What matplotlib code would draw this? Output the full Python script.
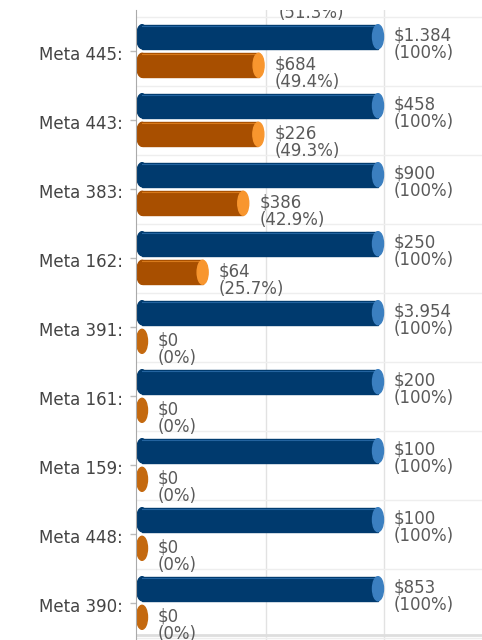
import numpy as np
import matplotlib.pyplot as plt
from matplotlib.patches import Rectangle, Ellipse

# dados
categorias = ["Meta 445", "Meta 443", "Meta 383", "Meta 162", "Meta 391",
              "Meta 161", "Meta 159", "Meta 448", "Meta 390"]
meta_valor = [1384, 458, 900, 250, 3954, 200, 100, 100, 853]
meta_pct = [100, 100, 100, 100, 100, 100, 100, 100, 100]
real_valor = [684, 226, 386, 64, 0, 0, 0, 0, 0]
real_pct = [49.4, 49.3, 42.9, 25.7, 0, 0, 0, 0, 0]
# categoria anterior, cortada no topo (so o percentual aparece)
anterior_pct = 51.3

azul, azul_tampa = "#003a6e", "#3b7fc0"
laranja, laranja_tampa = "#a84f00", "#f8962e"
laranja_zero = "#c4690f"
cor_texto = "#5a5a5a"


def dinheiro(v):
    return "$" + f"{v:,}".replace(",", ".")


def pct(p):
    return f"({p:g}%)"


fig = plt.figure(figsize=(4.82, 6.40), dpi=100)
ax = fig.add_axes([136 / 482, 0, 346 / 482, 630 / 640])

# escala: 0% em x=142px, 100% em x=378px
ax.set_xlim(-6 / 236, 340 / 236)
ax.set_ylim((640 - 51) / 69, (10 - 51) / 69)

alt = 24 / 69        # espessura da barra
desl = 14.3 / 69     # deslocamento do centro da barra
tampa = 11 / 236     # largura da tampa (elipse)


def cilindro(y, v, corpo, cor_tampa, cor_zero=None):
    if v <= 0:
        ax.add_patch(Ellipse((0, y), tampa, alt, color=cor_zero or corpo, zorder=3))
        return
    ax.add_patch(Ellipse((0, y), tampa, alt, color=corpo, zorder=3))
    ax.add_patch(Rectangle((0, y - alt / 2), v, alt, color=corpo, zorder=3))
    ax.plot([0, v], [y - alt / 2 + 0.012, y - alt / 2 + 0.012], color=cor_tampa,
            lw=0.8, alpha=0.6, zorder=4)
    ax.add_patch(Ellipse((v, y), tampa, alt, color=cor_tampa, zorder=4))


def rotulo(y, v, texto):
    ax.annotate(texto, xy=(v, y - alt / 2), xytext=(11.5, -1.5),
                textcoords="offset points", ha="left", va="top",
                fontsize=12, color=cor_texto, linespacing=0.95,
                annotation_clip=False, clip_on=True)


for i, cat in enumerate(categorias):
    yb = i - desl
    yl = i + desl
    cilindro(yb, meta_pct[i] / 100, azul, azul_tampa)
    rotulo(yb, meta_pct[i] / 100, dinheiro(meta_valor[i]) + "\n" + pct(meta_pct[i]))
    cilindro(yl, real_pct[i] / 100, laranja, laranja_tampa, laranja_zero)
    rotulo(yl, real_pct[i] / 100, dinheiro(real_valor[i]) + "\n" + pct(real_pct[i]))
    ax.annotate(cat + ":", xy=(0, i), xycoords=("axes fraction", "data"),
                xytext=(-9.5, -3), textcoords="offset points",
                ha="right", va="center", fontsize=12, color="#444444",
                annotation_clip=False)

# percentual da categoria anterior (cortado)
rotulo(-1 + desl, anterior_pct / 100, "\n" + pct(anterior_pct))

# grades
for gx in [124 / 236, 242 / 236]:
    ax.axvline(gx, color="#e2e2e2", lw=1, zorder=1)
for gy in np.arange(-0.5, len(categorias), 1):
    ax.axhline(gy, color="#eeeeee", lw=1, zorder=1)
ax.axhline((635 - 51) / 69, color="#dedede", lw=2, zorder=1)

ax.set_yticks(range(len(categorias)))
ax.set_yticklabels([])
ax.set_xticks([])
ax.tick_params(axis="y", length=4, color="#bbbbbb", width=1)
for s in ["top", "right", "bottom"]:
    ax.spines[s].set_visible(False)
ax.spines["left"].set_color("#aaaaaa")
ax.spines["left"].set_zorder(5)

fig.savefig("out.png", dpi=100)
